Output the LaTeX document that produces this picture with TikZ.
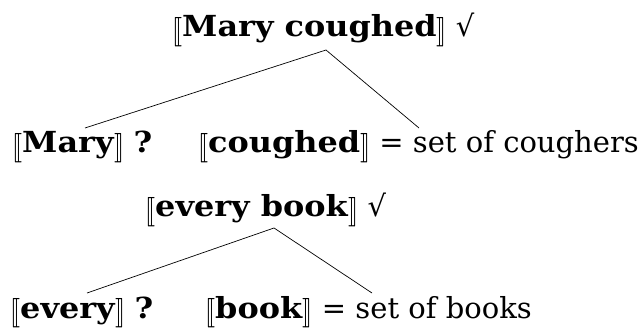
\documentclass[tikz,border=0pt]{standalone}
\usepackage{fontspec}
\setmainfont{DejaVu Serif}[BoldFeatures={FakeStretch=1.1}]
\IfFileExists{stmaryrd.sty}{\usepackage{stmaryrd}}{\newcommand{\llbracket}{[\![}\newcommand{\rrbracket}{]\!]}}
\newcommand{\bigbr}[1]{\raisebox{-0.1em}{\scalebox{1}[1.18]{$#1$}}}
\newcommand{\den}[1]{\bigbr{\llbracket}\textbf{#1}\bigbr{\rrbracket}}
\tikzset{
  lbl/.style={anchor=base west, inner sep=0pt, font=\fontsize{29}{35}\selectfont},
  branch/.style={line width=0.7pt}
}
\begin{document}
\begin{tikzpicture}[x=1pt,y=1pt]
\useasboundingbox (0,0) rectangle (644,329);
% top tree
\node[lbl] (mc) at (172,292) {\den{Mary coughed} √};
\node[lbl] (mary) at (12,176) {\den{Mary} \textbf{?}};
\node[lbl] (coughed) at (198,176) {\den{coughed} = set of coughers};
\coordinate (mcapex) at (326,279);
\coordinate (maryend) at (85,201);
\coordinate (coughedend) at (419,201);
\draw[branch] (maryend) -- (mcapex) -- (coughedend);
% bottom tree
\node[lbl] (eb) at (145,112) {\den{every book} √};
\node[lbl] (every) at (10,11) {\den{every} \textbf{?}};
\node[lbl] (book) at (205,11) {\den{book} = set of books};
\coordinate (ebapex) at (274,101);
\coordinate (everyend) at (87,36);
\coordinate (bookend) at (372,36);
\draw[branch] (everyend) -- (ebapex) -- (bookend);
\end{tikzpicture}
\end{document}
